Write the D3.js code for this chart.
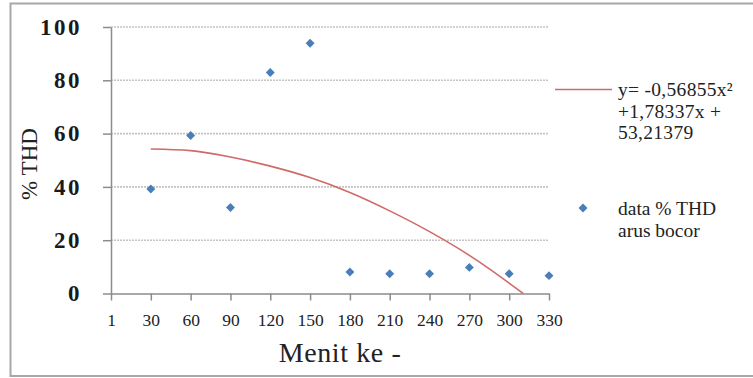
<!DOCTYPE html>
<html>
<head>
<meta charset="utf-8">
<script src="https://cdn.jsdelivr.net/npm/d3@7/dist/d3.min.js"></script>
</head>
<body style="margin:0">
<svg id="chart" width="753" height="378"></svg>
<script>
// ---- data ----
const minutes = [30, 60, 90, 120, 150, 180, 210, 240, 270, 300, 330];
const thdValues = [39.2, 59.3, 32.3, 82.9, 93.9, 8.1, 7.4, 7.4, 9.8, 7.4, 6.7];
// trendline (x in minutes, y in % THD)
const trendX = [30, 60, 90, 120, 150, 180, 210, 240, 270, 300, 310.5];
const trendY = [54.2, 53.6, 51.2, 47.8, 43.5, 37.9, 31.0, 23.2, 14.3, 3.9, 0];
const xTickValues = [0, 30, 60, 90, 120, 150, 180, 210, 240, 270, 300, 330];
const xTickLabels = ["1", "30", "60", "90", "120", "150", "180", "210", "240", "270", "300", "330"];
const yTickValues = [0, 20, 40, 60, 80, 100];
const legendTrendLines = ["y= -0,56855x\u00B2", "+1,78337x +", "53,21379"];
const legendDataLines = ["data % THD", "arus bocor"];
const xTitle = "Menit ke -";
const yTitle = "% THD";

// ---- layout ----
const svg = d3.select("#chart");
const plotLeft = 111, plotRight = 549, plotTop = 27, plotBottom = 293.5;
const x = d3.scaleLinear().domain([0, 330]).range([plotLeft, plotRight]);
const y = d3.scaleLinear().domain([0, 100]).range([plotBottom, plotTop]);
const blue = "#4a7ebb";
const red = "#d06a67";
const axisCol = "#8c8c8c";
const FONT = '"Liberation Serif", "Tinos", "Times New Roman", monospace';

// outer border
svg.append("path")
  .attr("d", `M760,3.5 H10.5 V376 H760`)
  .attr("fill", "none").attr("stroke", "#a8a8a8").attr("stroke-width", 2);

// gridlines
svg.append("g").selectAll("line").data(yTickValues.filter(v => v > 0)).join("line")
  .attr("x1", plotLeft).attr("x2", plotRight - 1)
  .attr("y1", d => y(d)).attr("y2", d => y(d))
  .attr("stroke", "#c4c4c4").attr("stroke-width", 1.6)
  .attr("stroke-dasharray", "2,1");

// y axis
const yAxis = svg.append("g").attr("transform", `translate(${plotLeft},0)`)
  .call(d3.axisLeft(y).tickValues(yTickValues).tickSize(8).tickPadding(21).tickSizeOuter(0));
yAxis.attr("font-family", null).attr("font-size", null);
yAxis.select(".domain").attr("stroke", axisCol).attr("stroke-width", 1.5);
yAxis.selectAll(".tick line").attr("stroke", axisCol).attr("stroke-width", 1.5);
yAxis.selectAll(".tick text")
  .style("font-family", FONT)
  .attr("font-size", 23).attr("font-weight", "bold")
  .attr("letter-spacing", 2.5)
  .attr("fill", "#1a1a1a");

// x axis
const xAxis = svg.append("g").attr("transform", `translate(0,${plotBottom})`)
  .call(d3.axisBottom(x).tickValues(xTickValues)
    .tickFormat((d, i) => xTickLabels[i]).tickSize(7).tickPadding(13).tickSizeOuter(0));
xAxis.attr("font-family", null).attr("font-size", null);
xAxis.select(".domain").attr("stroke", axisCol).attr("stroke-width", 1.5);
xAxis.selectAll(".tick line").attr("stroke", axisCol).attr("stroke-width", 1.5);
xAxis.selectAll(".tick text")
  .style("font-family", FONT)
  .attr("font-size", 17.5)
  .attr("fill", "#222");

// axis titles
svg.append("text")
  .style("font-family", FONT)
  .attr("x", 340).attr("y", 362)
  .attr("text-anchor", "middle")
  .attr("font-size", 28).attr("letter-spacing", 0.6)
  .attr("fill", "#222")
  .text(xTitle);
svg.append("text")
  .style("font-family", FONT)
  .attr("transform", "translate(37,164) rotate(-90)")
  .attr("text-anchor", "middle")
  .attr("font-size", 23)
  .attr("fill", "#222")
  .text(yTitle);

// trendline
const pts = trendX.map((v, i) => [v, trendY[i]]);
svg.append("path")
  .datum(pts)
  .attr("d", d3.line().x(d => x(d[0])).y(d => y(d[1])).curve(d3.curveMonotoneX))
  .attr("fill", "none").attr("stroke", red).attr("stroke-width", 1.6);

// data points (diamond = square rotated 45deg)
const diamond = d3.symbol().type(d3.symbolSquare).size(40);
svg.append("g").selectAll("path").data(minutes.map((m, i) => [m, thdValues[i]])).join("path")
  .attr("d", diamond)
  .attr("transform", d => `translate(${x(d[0])},${y(d[1])}) rotate(45)`)
  .attr("fill", blue);

// legend
svg.append("line")
  .attr("x1", 555).attr("x2", 612).attr("y1", 89.5).attr("y2", 89.5)
  .attr("stroke", red).attr("stroke-width", 1.6);
svg.append("g").selectAll("text").data(legendTrendLines).join("text")
  .style("font-family", FONT)
  .attr("x", 618).attr("y", (d, i) => 96 + i * 21.5)
  .attr("font-size", 19.5).attr("letter-spacing", 0.3)
  .attr("fill", "#222")
  .text(d => d);
svg.append("path")
  .attr("d", diamond)
  .attr("transform", "translate(583,208) rotate(45)")
  .attr("fill", blue);
svg.append("g").selectAll("text").data(legendDataLines).join("text")
  .style("font-family", FONT)
  .attr("x", 618).attr("y", (d, i) => 215 + i * 21.5)
  .attr("font-size", 19.5)
  .attr("fill", "#222")
  .text(d => d);
</script>
</body>
</html>
